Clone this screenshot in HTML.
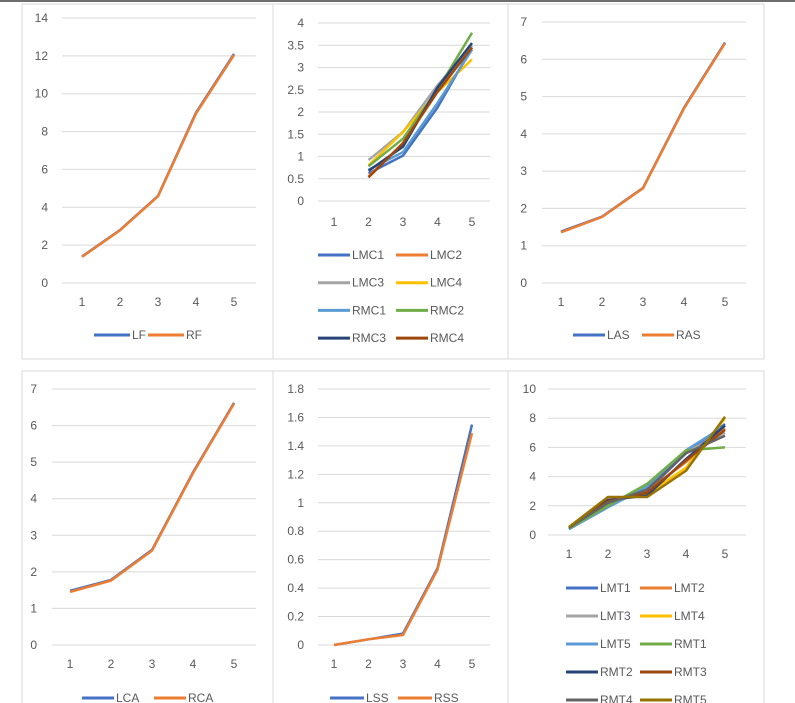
<!DOCTYPE html>
<html><head><meta charset="utf-8"><style>
body{margin:0;background:#fff;font-family:"Liberation Sans",sans-serif}
svg{display:block}
text{font-family:"Liberation Sans",sans-serif;fill:#595959;font-size:12px}
</style></head><body>
<svg id="c" width="795" height="703"></svg>
<script>
const xCats=[1,2,3,4,5];
const fLeft=[1.4,2.8,4.6,9.0,12.1];
const fRight=[1.38,2.78,4.58,8.95,12.05];
const mcL1=[null,0.62,1.02,2.1,3.45];
const mcL2=[null,0.55,1.3,2.5,3.45];
const mcL3=[null,0.92,1.55,2.6,3.5];
const mcL4=[null,0.8,1.55,2.45,3.18];
const mcR1=[null,0.7,1.1,2.2,3.4];
const mcR2=[null,0.78,1.4,2.5,3.78];
const mcR3=[null,0.68,1.22,2.55,3.55];
const mcR4=[null,0.53,1.3,2.45,3.45];
const asL=[1.38,1.78,2.55,4.7,6.45];
const asR=[1.36,1.77,2.54,4.68,6.43];
const caL=[1.48,1.78,2.6,4.72,6.62];
const caR=[1.45,1.76,2.58,4.7,6.6];
const ssL=[0,0.04,0.08,0.54,1.55];
const ssR=[0,0.04,0.07,0.53,1.49];
const mtL1=[0.4,2.2,3.0,5.6,7.6];
const mtL2=[0.45,2.3,3.0,5.0,7.3];
const mtL3=[0.5,2.0,3.2,5.7,7.0];
const mtL4=[0.5,2.4,2.8,4.6,8.0];
const mtL5=[0.4,1.9,3.3,5.8,7.5];
const mtR1=[0.45,2.0,3.5,5.8,6.0];
const mtR2=[0.5,2.4,2.7,5.2,7.5];
const mtR3=[0.5,2.3,2.9,5.1,7.2];
const mtR4=[0.5,2.2,3.1,5.6,6.8];
const mtR5=[0.55,2.6,2.6,4.4,8.1];
const yT1=[0,2,4,6,8,10,12,14];
const yT2=[0,0.5,1,1.5,2,2.5,3,3.5,4];
const yT3=[0,1,2,3,4,5,6,7];
const yT5=[0,0.2,0.4,0.6,0.8,1,1.2,1.4,1.6,1.8];
const yT6=[0,2,4,6,8,10];
const C={b:'#4472c4',o:'#ed7d31',g:'#a5a5a5',y:'#ffc000',lb:'#5b9bd5',gr:'#70ad47',nb:'#264478',br:'#9e480e',dg:'#636363',ol:'#997300'};
const NS='http://www.w3.org/2000/svg';
const svg=document.getElementById('c');
function el(t,a,p){const e=document.createElementNS(NS,t);for(const k in a)e.setAttribute(k,a[k]);(p||svg).appendChild(e);return e;}
function panel(P){
  const g=el('g',{});
  
  
  const r=el('rect',{x:P.bx,y:P.by,width:P.bw,height:P.bh,fill:'#fff',stroke:'#d9d9d9'},g);
  
  
  const ymax=P.ticks[P.ticks.length-1];
  const Y=v=>P.y0-(v/ymax)*(P.y0-P.y1);
  const X=i=>P.xs+(i)*P.dx;
  P.ticks.forEach(t=>{
    const l=el('line',{x1:P.gx0,x2:P.gx1,y1:Y(t),y2:Y(t),stroke:'#d9d9d9'},g);
    
    
    const tx=el('text',{x:P.tx,y:Y(t)+4,'text-anchor':'end'},g);tx.textContent=t;
    
    
  });
  xCats.forEach((c,i)=>{
    const tx=el('text',{x:X(i),y:P.xly,'text-anchor':'middle'},g);tx.textContent=c;
    
    
  });
  P.series.forEach(s=>{
    let d='';s.v.forEach((v,i)=>{if(v==null)return;d+=(d?'L':'M')+X(i)+' '+Y(v);});
    const p=el('path',{d:d,fill:'none',stroke:s.c,'stroke-width':2.5,'stroke-linejoin':'round'},g);
    
    
  });
  P.series.forEach((s,k)=>{
    const col=k%2,row=Math.floor(k/2);
    const lx=P.lx[col],ly=P.ly+row*P.lrow;
    const le=el('g',{},g);
    
    
    el('line',{x1:lx,x2:lx+P.sw,y1:ly,y2:ly,stroke:s.c,'stroke-width':3},le);
    const t=el('text',{x:lx+P.sw+2,y:ly+4},le);t.textContent=s.n;
  });
}
panel({name:'chart-lf-rf',bx:22,by:4,bw:251,bh:355,ticks:yT1,y0:283,y1:18,gx0:62,gx1:256,tx:48,xs:82,dx:38,xly:306,
 series:[{n:'LF',v:fLeft,c:C.b},{n:'RF',v:fRight,c:C.o}],lx:[94,148],ly:335,lrow:0,sw:36});
panel({name:'chart-mc',bx:273,by:4,bw:235,bh:355,ticks:yT2,y0:201,y1:23,gx0:318,gx1:490,tx:304,xs:334,dx:34.5,xly:226,
 series:[{n:'LMC1',v:mcL1,c:C.b},{n:'LMC2',v:mcL2,c:C.o},{n:'LMC3',v:mcL3,c:C.g},{n:'LMC4',v:mcL4,c:C.y},{n:'RMC1',v:mcR1,c:C.lb},{n:'RMC2',v:mcR2,c:C.gr},{n:'RMC3',v:mcR3,c:C.nb},{n:'RMC4',v:mcR4,c:C.br}],lx:[318,396],ly:255,lrow:27.7,sw:32});
panel({name:'chart-as',bx:508,by:4,bw:256,bh:355,ticks:yT3,y0:283,y1:22,gx0:542,gx1:746,tx:527,xs:561,dx:41,xly:306,
 series:[{n:'LAS',v:asL,c:C.b},{n:'RAS',v:asR,c:C.o}],lx:[573,642],ly:335,lrow:0,sw:32});
panel({name:'chart-ca',bx:22,by:371,bw:251,bh:340,ticks:yT3,y0:645,y1:389,gx0:52,gx1:256,tx:37,xs:70,dx:41,xly:668,
 series:[{n:'LCA',v:caL,c:C.b},{n:'RCA',v:caR,c:C.o}],lx:[82,154],ly:698,lrow:0,sw:32});
panel({name:'chart-ss',bx:273,by:371,bw:235,bh:340,ticks:yT5,y0:645,y1:389,gx0:318,gx1:490,tx:304,xs:334,dx:34.5,xly:668,
 series:[{n:'LSS',v:ssL,c:C.b},{n:'RSS',v:ssR,c:C.o}],lx:[330,398],ly:698,lrow:0,sw:34});
panel({name:'chart-mt',bx:508,by:371,bw:256,bh:340,ticks:yT6,y0:535,y1:389,gx0:548,gx1:746,tx:536,xs:569,dx:39,xly:558,
 series:[{n:'LMT1',v:mtL1,c:C.b},{n:'LMT2',v:mtL2,c:C.o},{n:'LMT3',v:mtL3,c:C.g},{n:'LMT4',v:mtL4,c:C.y},{n:'LMT5',v:mtL5,c:C.lb},{n:'RMT1',v:mtR1,c:C.gr},{n:'RMT2',v:mtR2,c:C.nb},{n:'RMT3',v:mtR3,c:C.br},{n:'RMT4',v:mtR4,c:C.dg},{n:'RMT5',v:mtR5,c:C.ol}],lx:[566,640],ly:588,lrow:28,sw:32});
const tb=el('rect',{x:0,y:0,width:795,height:2,fill:'#6e6e6e'});


</script>
</body></html>
